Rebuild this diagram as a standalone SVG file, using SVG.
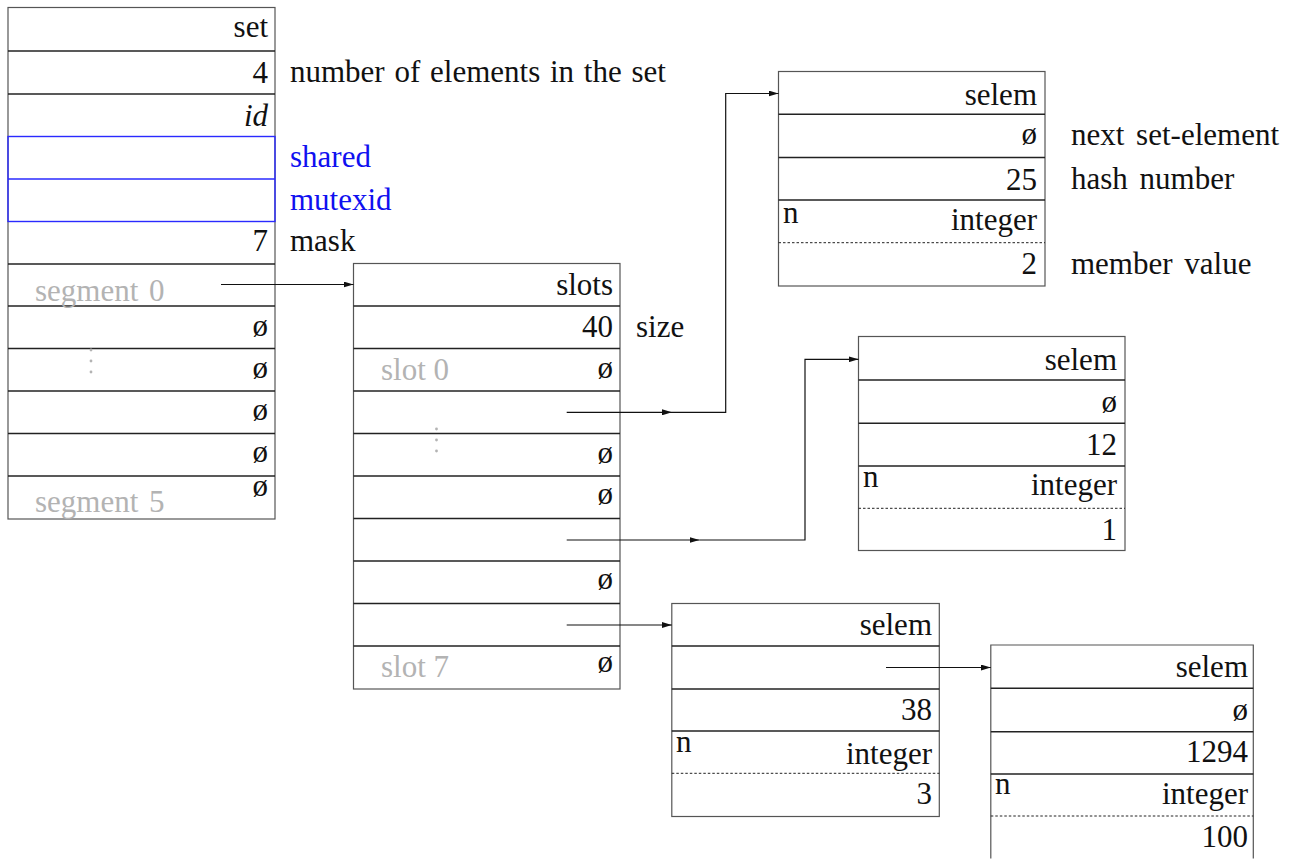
<svg xmlns="http://www.w3.org/2000/svg" width="1296" height="859" viewBox="0 0 1296 859">
<defs>
<style>
text{font-family:'Liberation Serif',Tinos,'Nimbus Roman','DejaVu Serif',serif;font-size:31px;fill:#111}
.r{text-anchor:end}
.g{fill:#b3b3b3}
.b{fill:#1010f0}
.it{font-style:italic}
.box{fill:#fff;stroke:#555;stroke-width:1.2}
.div{stroke:#222;stroke-width:1.4}
.bl{stroke:#2a2aff;stroke-width:1.4;fill:none}
.dash{stroke:#222;stroke-width:1;stroke-dasharray:2.5 2}
.c{fill:none;stroke:#111;stroke-width:1.2}
.dot{fill:#b3b3b3}
</style>
<marker id="ah" viewBox="0 0 10 6" refX="10" refY="3" markerWidth="10" markerHeight="6" markerUnits="userSpaceOnUse" orient="auto">
<path d="M0,0 L10,3 L0,6 z" fill="#111"/>
</marker>
</defs>

<g id="set">
<rect class="box" x="8" y="7.5" width="267" height="511.5"/>
<line class="div" x1="8" y1="51" x2="275" y2="51"/>
<line class="div" x1="8" y1="94" x2="275" y2="94"/>
<line class="div" x1="8" y1="264" x2="275" y2="264"/>
<line class="div" x1="8" y1="306" x2="275" y2="306"/>
<line class="div" x1="8" y1="348.5" x2="275" y2="348.5"/>
<line class="div" x1="8" y1="391" x2="275" y2="391"/>
<line class="div" x1="8" y1="433.5" x2="275" y2="433.5"/>
<line class="div" x1="8" y1="476" x2="275" y2="476"/>
<rect class="bl" x="8" y="136.5" width="267" height="85"/>
<line class="bl" x1="8" y1="179" x2="275" y2="179"/>
<text class="r" x="268" y="37">set</text>
<text class="r" x="268" y="82.5">4</text>
<text x="290" y="82" word-spacing="2">number of elements in the set</text>
<text class="r it" x="268" y="126">id</text>
<text class="b" x="290" y="166.5">shared</text>
<text class="b" x="290" y="210">mutexid</text>
<text class="r" x="268" y="251">7</text>
<text x="290" y="251">mask</text>
<text class="g" x="35" y="300.5" word-spacing="3">segment 0</text>
<text class="r" x="268" y="336">ø</text>
<text class="r" x="268" y="378">ø</text>
<text class="r" x="268" y="420">ø</text>
<text class="r" x="268" y="462">ø</text>
<text class="r" x="268" y="496">ø</text>
<text class="g" x="35" y="512" word-spacing="3">segment 5</text>
<circle class="dot" cx="91" cy="350" r="1.4"/>
<circle class="dot" cx="91" cy="361" r="1.4"/>
<circle class="dot" cx="91" cy="372" r="1.4"/>
</g>

<g id="slots">
<rect class="box" x="353.5" y="263.5" width="266.5" height="425.5"/>
<line class="div" x1="353.5" y1="306" x2="620" y2="306"/>
<line class="div" x1="353.5" y1="348.5" x2="620" y2="348.5"/>
<line class="div" x1="353.5" y1="391" x2="620" y2="391"/>
<line class="div" x1="353.5" y1="433.5" x2="620" y2="433.5"/>
<line class="div" x1="353.5" y1="476" x2="620" y2="476"/>
<line class="div" x1="353.5" y1="518.5" x2="620" y2="518.5"/>
<line class="div" x1="353.5" y1="561" x2="620" y2="561"/>
<line class="div" x1="353.5" y1="603.5" x2="620" y2="603.5"/>
<line class="div" x1="353.5" y1="646" x2="620" y2="646"/>
<text class="r" x="613" y="295">slots</text>
<text class="r" x="613" y="337">40</text>
<text x="636" y="337">size</text>
<text class="g" x="381" y="380">slot 0</text>
<text class="r" x="613" y="377.5">ø</text>
<text class="r" x="613" y="462.5">ø</text>
<text class="r" x="613" y="504">ø</text>
<text class="r" x="613" y="589">ø</text>
<text class="g" x="381" y="677">slot 7</text>
<text class="r" x="613" y="672">ø</text>
<circle class="dot" cx="436.5" cy="429" r="1.4"/>
<circle class="dot" cx="436.5" cy="440" r="1.4"/>
<circle class="dot" cx="436.5" cy="451" r="1.4"/>
</g>

<g id="selem1">
<rect class="box" x="778.5" y="71.5" width="266.5" height="214.5"/>
<line class="div" x1="778.5" y1="114.3" x2="1045" y2="114.3"/>
<line class="div" x1="778.5" y1="157.5" x2="1045" y2="157.5"/>
<line class="div" x1="778.5" y1="200" x2="1045" y2="200"/>
<line class="dash" x1="778.5" y1="242.7" x2="1045" y2="242.7"/>
<text class="r" x="1037" y="105">selem</text>
<text class="r" x="1037" y="143.5">ø</text>
<text class="r" x="1037" y="190">25</text>
<text x="783" y="223">n</text>
<text class="r" x="1037" y="230">integer</text>
<text class="r" x="1037" y="273.5">2</text>
<text x="1071" y="145" word-spacing="4">next set-element</text>
<text x="1071" y="188.5" word-spacing="4">hash number</text>
<text x="1071" y="273.5" word-spacing="4">member value</text>
</g>

<g id="selem2">
<rect class="box" x="858.5" y="336.5" width="266.5" height="214"/>
<line class="div" x1="858.5" y1="380" x2="1125" y2="380"/>
<line class="div" x1="858.5" y1="423.3" x2="1125" y2="423.3"/>
<line class="div" x1="858.5" y1="466" x2="1125" y2="466"/>
<line class="dash" x1="858.5" y1="508.3" x2="1125" y2="508.3"/>
<text class="r" x="1117" y="369.5">selem</text>
<text class="r" x="1117" y="412">ø</text>
<text class="r" x="1117" y="455">12</text>
<text x="863" y="487">n</text>
<text class="r" x="1117" y="495">integer</text>
<text class="r" x="1117" y="540">1</text>
</g>

<g id="selem3">
<rect class="box" x="671.8" y="603.5" width="267.5" height="213"/>
<line class="div" x1="671.8" y1="646" x2="939.3" y2="646"/>
<line class="div" x1="671.8" y1="689" x2="939.3" y2="689"/>
<line class="div" x1="671.8" y1="731" x2="939.3" y2="731"/>
<line class="dash" x1="671.8" y1="773.3" x2="939.3" y2="773.3"/>
<text class="r" x="932" y="635">selem</text>
<text class="r" x="932" y="720">38</text>
<text x="676" y="752">n</text>
<text class="r" x="932" y="763.5">integer</text>
<text class="r" x="932" y="803.5">3</text>
</g>

<g id="selem4">
<path class="box" d="M990.8,858.5 V645 H1253.3 V858.5"/>
<line class="div" x1="990.8" y1="688.3" x2="1253.3" y2="688.3"/>
<line class="div" x1="990.8" y1="731.7" x2="1253.3" y2="731.7"/>
<line class="div" x1="990.8" y1="774" x2="1253.3" y2="774"/>
<line class="dash" x1="990.8" y1="816" x2="1253.3" y2="816"/>
<text class="r" x="1248" y="677">selem</text>
<text class="r" x="1248" y="719.5">ø</text>
<text class="r" x="1248" y="762">1294</text>
<text x="995" y="793.5">n</text>
<text class="r" x="1248" y="803.5">integer</text>
<text class="r" x="1248" y="847">100</text>
</g>

<g id="connectors">
<line class="c" x1="221" y1="284.5" x2="353.5" y2="284.5" marker-end="url(#ah)"/>
<line class="c" x1="566.7" y1="412.3" x2="672" y2="412.3" marker-end="url(#ah)"/>
<path class="c" d="M672,412.3 H725.7 V93.5 H778.5" marker-end="url(#ah)"/>
<line class="c" x1="566.7" y1="540" x2="699.5" y2="540" marker-end="url(#ah)"/>
<path class="c" d="M699.5,540 H805 V359.3 H858.5" marker-end="url(#ah)"/>
<line class="c" x1="566.7" y1="625" x2="671.8" y2="625" marker-end="url(#ah)"/>
<line class="c" x1="886" y1="667.5" x2="990.8" y2="667.5" marker-end="url(#ah)"/>
</g>
</svg>
